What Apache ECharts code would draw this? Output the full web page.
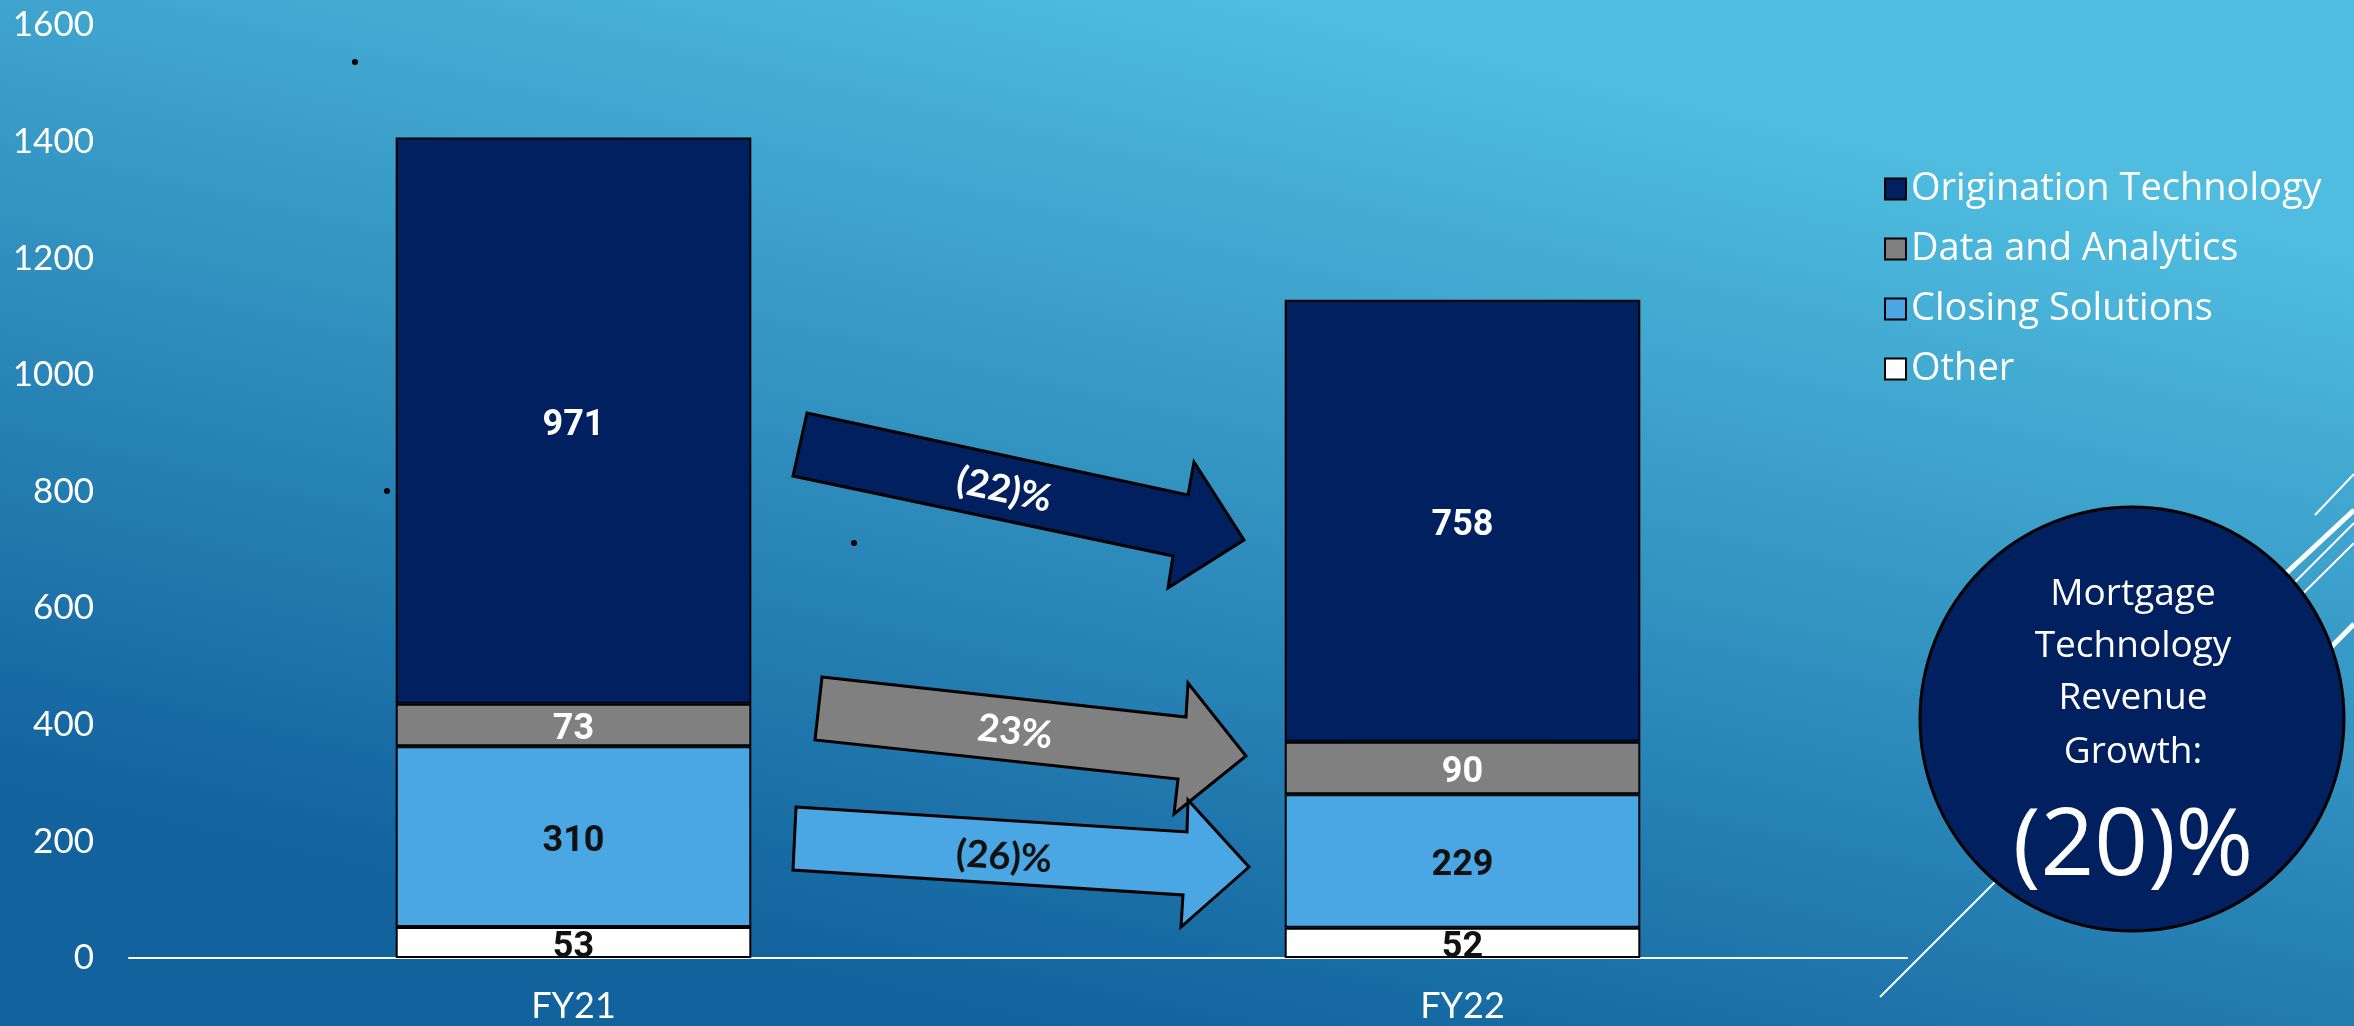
<!DOCTYPE html>
<html>
<head>
<meta charset="utf-8">
<script src="https://cdn.jsdelivr.net/npm/echarts@6/dist/echarts.min.js"></script>
<style>
  html, body { margin: 0; padding: 0; background: #2a8cc0; }
  #main { width: 2354px; height: 1026px; }
</style>
</head>
<body>
<div id="main"></div>
<script>
// ---- data ----
const categories = ['FY21', 'FY22'];
const origination = [971, 758];
const dataAnalytics = [73, 90];
const closingSolutions = [310, 229];
const other = [53, 52];
const yTicks = [0, 200, 400, 600, 800, 1000, 1200, 1400, 1600];
const growthLabels = ['(22)%', '23%', '(26)%'];
const totalGrowthTitle = ['Mortgage', 'Technology', 'Revenue', 'Growth:'];
const totalGrowthValue = '(20)%';

const FONT = "'Century Gothic','URW Gothic L','Lato','Noto Sans',sans-serif";
const WIDE = "'Century Gothic','URW Gothic L','Open Sans','Noto Sans',sans-serif";
const NAVY = '#002060', GREY = '#808080', LBLUE = '#4aa7e4', WHITE = '#ffffff';

const chart = echarts.init(document.getElementById('main'), null, { renderer: 'canvas' });

function arrow(points, fill, z) {
  return { type: 'polygon', z: z, silent: true,
    shape: { points: points },
    style: { fill: fill, stroke: '#000', lineWidth: 3, lineJoin: 'miter' } };
}
function arrowText(txt, x, y, deg, color, z) {
  return { type: 'text', z: z, silent: true, x: x, y: y, rotation: -deg * Math.PI / 180,
    style: { text: txt, fill: color, font: "bold 38px " + FONT, align: 'center', verticalAlign: 'middle' } };
}
function line(x1, y1, x2, y2, w) {
  return { type: 'line', z: 1, silent: true, shape: { x1: x1, y1: y1, x2: x2, y2: y2 },
    style: { stroke: '#ffffff', lineWidth: w } };
}
function dot(x, y) {
  return { type: 'circle', z: 5, silent: true, shape: { cx: x, cy: y, r: 3 }, style: { fill: '#000' } };
}
function circleText(txt, y, size) {
  return { type: 'text', z: 4, silent: true, x: 2133, y: y,
    style: { text: txt, fill: WHITE, font: size + "px " + WIDE, align: 'center', verticalAlign: 'middle' } };
}

const graphics = [
  { type: 'rect', z: -10, silent: true, shape: { x: 0, y: 0, width: 2354, height: 1026 },
    style: { fill: new echarts.graphic.LinearGradient(0.55, 0, 0.45, 1, [
      { offset: 0, color: '#50bde0' }, { offset: 1, color: '#11629d' }]) } },
  // decorative lines (theme)
  line(2315, 515, 2354, 474, 2),
  line(2150, 700, 2354, 510, 5),
  line(1880, 997, 2354, 523, 2),
  line(2150, 745, 2354, 543, 2),
  line(2200, 780, 2354, 624, 5),
  // arrows
  arrow([[807, 413], [1188, 495], [1194, 462], [1244, 540], [1168, 588], [1173, 556], [793, 476]], NAVY, 3),
  arrowText(growthLabels[0], 1004, 490, 12, WHITE, 4),
  arrow([[822, 677], [1186, 717], [1188, 683], [1246, 756], [1174, 814], [1178, 779], [815, 740]], GREY, 3),
  arrowText(growthLabels[1], 1015, 732, 6.3, WHITE, 4),
  arrow([[796, 807], [1187, 832], [1188, 800], [1249, 867], [1181, 927], [1183, 895], [793, 870]], LBLUE, 3),
  arrowText(growthLabels[2], 1004, 857, 3.6, '#111111', 4),
  // summary circle
  { type: 'circle', z: 3, silent: true, shape: { cx: 2132, cy: 719, r: 212 },
    style: { fill: NAVY, stroke: '#000', lineWidth: 3 } },
  circleText(totalGrowthTitle[0], 594, 37),
  circleText(totalGrowthTitle[1], 646, 37),
  circleText(totalGrowthTitle[2], 698, 37),
  circleText(totalGrowthTitle[3], 752, 37),
  circleText(totalGrowthValue, 848, 94),
  // stray dots
  dot(355, 62), dot(387, 491), dot(854, 543)
];

function seriesOf(name, data, color, labelColor) {
  return {
    name: name, type: 'bar', stack: 'total', data: data, barWidth: '40%',
    itemStyle: { color: color, borderColor: '#000', borderWidth: 2 },
    label: { show: true, position: 'inside', offset: [0, 5], color: labelColor,
      fontFamily: "Roboto, 'Noto Sans', sans-serif", fontWeight: 'bold', fontSize: 36 },
    emphasis: { disabled: true }
  };
}

const option = {
  animation: false,
  backgroundColor: 'transparent',
  grid: { left: 129, right: 447, top: 25, bottom: 68, containLabel: false },
  legend: {
    data: ['Origination Technology', 'Data and Analytics', 'Closing Solutions', 'Other'],
    orient: 'vertical', left: 1879, top: 164,
    itemWidth: 21, itemHeight: 21, itemGap: 20, icon: 'rect',
    textStyle: { color: WHITE, fontSize: 38, fontFamily: WIDE, lineHeight: 40 },
    selectedMode: false
  },
  xAxis: {
    type: 'category', data: categories,
    axisLine: { show: true, lineStyle: { color: '#ffffff', width: 2 } },
    axisTick: { show: false },
    axisLabel: { color: WHITE, fontSize: 36, fontFamily: FONT, margin: 30 }
  },
  yAxis: {
    type: 'value', min: 0, max: 1600, interval: 200,
    axisLine: { show: false }, axisTick: { show: false }, splitLine: { show: false },
    axisLabel: { color: WHITE, fontSize: 35, fontFamily: FONT, margin: 35,
      formatter: function (v) { return yTicks.indexOf(v) >= 0 ? String(v) : ''; } }
  },
  series: [
    seriesOf('Other', other, WHITE, '#111111'),
    seriesOf('Closing Solutions', closingSolutions, LBLUE, '#111111'),
    seriesOf('Data and Analytics', dataAnalytics, GREY, WHITE),
    seriesOf('Origination Technology', origination, NAVY, WHITE)
  ],
  graphic: graphics
};
chart.setOption(option);
</script>
</body>
</html>
